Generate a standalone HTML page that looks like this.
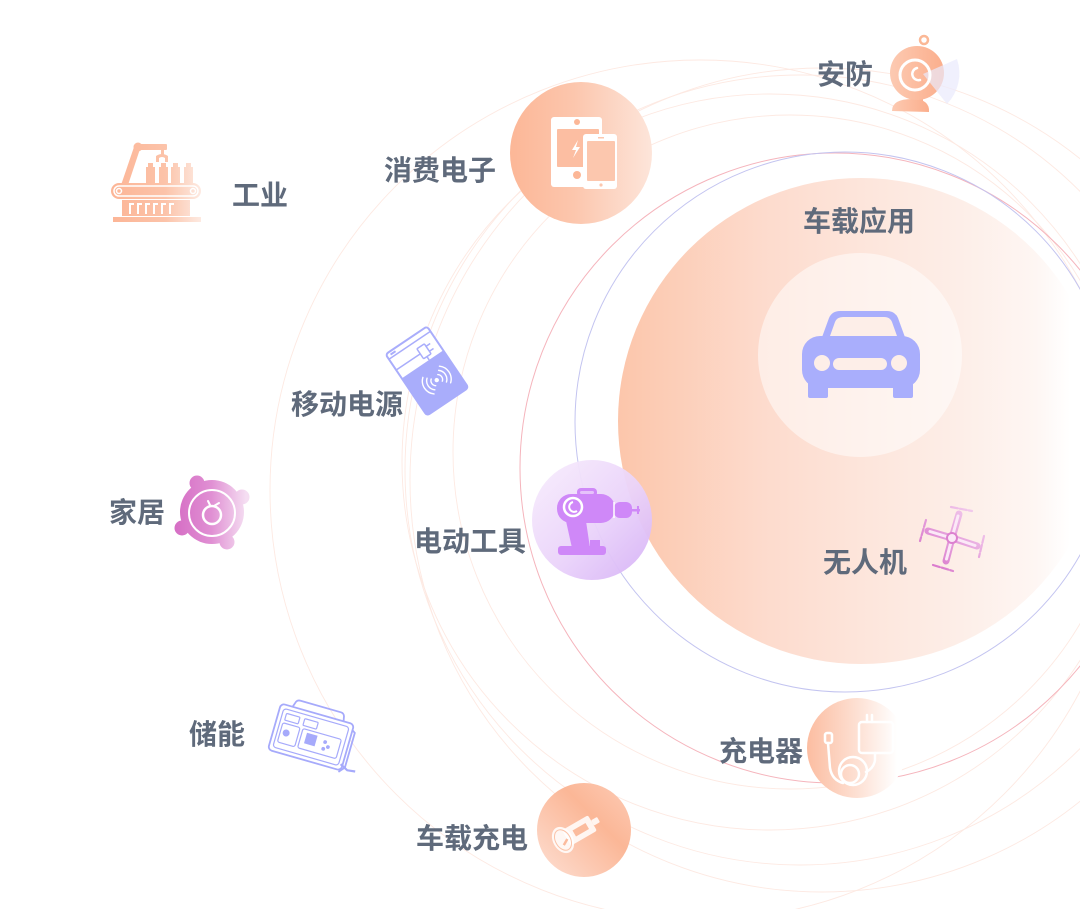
<!DOCTYPE html>
<html><head><meta charset="utf-8">
<style>
html,body{margin:0;padding:0;background:#fff;}
svg{display:block;}
text{font-family:"Liberation Sans","Noto Sans CJK SC",sans-serif;font-weight:700;font-size:28px;fill:#5f6a7b;}
</style></head>
<body>
<svg width="1080" height="909" viewBox="0 0 1080 909" xmlns="http://www.w3.org/2000/svg">
<defs>
<linearGradient id="gBig" gradientUnits="userSpaceOnUse" x1="618" y1="0" x2="1104" y2="0">
<stop offset="0" stop-color="#fcc6ab"/>
<stop offset="0.3" stop-color="#fddbcd"/>
<stop offset="0.5" stop-color="#fde5db"/>
<stop offset="0.72" stop-color="#fdefe9"/>
<stop offset="0.86" stop-color="#fef6f3"/>
<stop offset="0.93" stop-color="#ffffff"/>
</linearGradient>
<linearGradient id="gPhone" x1="0" y1="0" x2="1" y2="0">
<stop offset="0" stop-color="#fcb797"/>
<stop offset="0.45" stop-color="#fcc6ad"/>
<stop offset="1" stop-color="#fde5da"/>
</linearGradient>
<linearGradient id="gCam" x1="0" y1="0" x2="1" y2="0">
<stop offset="0" stop-color="#fccab2"/>
<stop offset="1" stop-color="#fbae8c"/>
</linearGradient>
<linearGradient id="gFac" gradientUnits="userSpaceOnUse" x1="110" y1="0" x2="202" y2="0">
<stop offset="0" stop-color="#fcb596"/>
<stop offset="0.6" stop-color="#fcc3a9"/>
<stop offset="1" stop-color="#fdebe3"/>
</linearGradient>
<linearGradient id="gHome" gradientUnits="userSpaceOnUse" x1="176" y1="0" x2="246" y2="0">
<stop offset="0" stop-color="#d66fc5"/>
<stop offset="0.5" stop-color="#e08fd3"/>
<stop offset="1" stop-color="#f5def2"/>
</linearGradient>
<linearGradient id="gDrill" x1="0" y1="0" x2="1" y2="1">
<stop offset="0" stop-color="#f8eefc"/>
<stop offset="0.55" stop-color="#ead3fa"/>
<stop offset="1" stop-color="#d5b0f6"/>
</linearGradient>
<linearGradient id="gDrone" gradientUnits="userSpaceOnUse" x1="920" y1="570" x2="985" y2="505">
<stop offset="0" stop-color="#d66cc7"/>
<stop offset="1" stop-color="#f6d9f2"/>
</linearGradient>
<linearGradient id="gChg" x1="0" y1="0" x2="1" y2="0">
<stop offset="0" stop-color="#fcbda1"/>
<stop offset="0.5" stop-color="#fde0d3"/>
<stop offset="0.9" stop-color="#ffffff"/>
</linearGradient>
<linearGradient id="gCar" x1="0.1" y1="0.9" x2="0.9" y2="0.1">
<stop offset="0" stop-color="#fdd9ca"/>
<stop offset="0.65" stop-color="#fbb797"/>
<stop offset="1" stop-color="#fcc6ae"/>
</linearGradient>
</defs>

<!-- faint orbit circles -->
<g fill="none" stroke="#fde9e2" stroke-width="0.9">
<circle cx="700" cy="490" r="430"/>
<circle cx="770" cy="462" r="368"/>
<circle cx="790" cy="452" r="337"/>
<circle cx="822" cy="480" r="412"/>
<circle cx="800" cy="470" r="395"/>
</g>

<!-- big filled circle -->
<circle cx="861" cy="421" r="243" fill="url(#gBig)"/>
<!-- thin colored circles -->
<circle cx="835" cy="468" r="315" fill="none" stroke="#f5b4bc" stroke-width="1"/>
<circle cx="845" cy="422" r="270" fill="none" stroke="#c3c4f0" stroke-width="1"/>

<!-- car inner circle -->
<circle cx="860" cy="355" r="102" fill="#ffffff" opacity="0.5"/>
<!-- car -->
<g fill="#a9aefc">
<path d="M821 340 L829 318 Q832 311 840 311 L887 311 Q895 311 898 318 L906 340 Z"/>
<rect x="802" y="336" width="118" height="52" rx="18"/>
<rect x="808" y="378" width="20" height="20" rx="2"/>
<rect x="893" y="378" width="20" height="20" rx="2"/>
</g>
<g fill="#fdeee8">
<path d="M830 336 L835 322 Q837 317 843 317 L884 317 Q890 317 892 322 L897 336 Z"/>
<circle cx="822" cy="363" r="8"/>
<circle cx="899" cy="363" r="8"/>
<rect x="833" y="358" width="54" height="12" rx="6"/>
</g>

<!-- 消费电子 circle + icon -->
<circle cx="581" cy="153" r="71" fill="url(#gPhone)"/>
<g>
<rect x="551" y="117" width="51" height="70" rx="3" fill="#fff"/>
<rect x="557" y="129" width="42" height="38" rx="1" fill="#fcbea2"/>
<circle cx="577" cy="122" r="3" fill="#fcb797"/>
<circle cx="577" cy="175" r="4" fill="#fcb797"/>
<path d="M578 140 L572 150 L576 150 L573 158 L580 147 L576 147 Z" fill="#fff"/>
<rect x="583" y="134" width="34" height="55" rx="3" fill="#fff"/>
<rect x="587" y="141" width="28" height="40" rx="1" fill="#fcc7ae"/>
<circle cx="601" cy="185" r="1.6" fill="#fcc7ae"/>
<rect x="598" y="137" width="6" height="1.5" fill="#fcc7ae"/>
</g>

<!-- 安防 camera -->
<g>
<circle cx="924" cy="40" r="4" fill="none" stroke="#fbb896" stroke-width="2.5"/>
<rect x="911" y="92" width="12" height="10" fill="url(#gCam)"/>
<path d="M892 111 Q892 99 912 99 Q930 99 929 112 Z" fill="url(#gCam)"/>
<circle cx="917" cy="73" r="27" fill="url(#gCam)"/>
<path d="M923 74 L957 59 A44 44 0 0 1 947 104 Z" fill="#e9e9fc" opacity="0.7"/>
<circle cx="915" cy="75" r="15" fill="none" stroke="#fff" stroke-width="3"/>
<path d="M917 68 A6 6 0 1 0 920 80" fill="none" stroke="#fff" stroke-width="2.5" stroke-linecap="round"/>
</g>

<!-- 工业 factory icon -->
<g fill="url(#gFac)">
<path d="M120 188 L134 147 L140 149 L127 188 Z"/>
<circle cx="138" cy="147" r="4.5"/>
<rect x="138" y="144" width="29" height="6" rx="1"/>
<rect x="161" y="150" width="3" height="5"/>
<path d="M156 162 L156 156 Q162 152 168 156 L168 162 L165 162 L165 158 Q162 156 159 158 L159 162 Z"/>
<rect x="146" y="167" width="9" height="17"/>
<rect x="159" y="167" width="9" height="17"/>
<rect x="171" y="167" width="9" height="17"/>
<rect x="184" y="167" width="9" height="17"/>
<rect x="148" y="163" width="5" height="5"/>
<rect x="161" y="163" width="5" height="5"/>
<rect x="173" y="163" width="5" height="5"/>
<rect x="186" y="163" width="5" height="5"/>
<rect x="111" y="183" width="90" height="16" rx="8"/>
<rect x="122" y="200" width="68" height="16"/>
<rect x="113" y="217" width="88" height="5"/>
</g>
<g fill="none" stroke="#fff" stroke-width="1.5">
<rect x="114" y="186" width="84" height="10" rx="5"/>
<circle cx="119" cy="191" r="2.5"/>
<circle cx="193" cy="191" r="2.5"/>
</g>
<g fill="none" stroke="#fff" stroke-width="2">
<path d="M130 214 V204 H134"/><path d="M138 214 V204 H142"/><path d="M146 214 V204 H150"/>
<path d="M154 214 V204 H158"/><path d="M162 214 V204 H166"/><path d="M170 214 V204 H174"/>
</g>

<!-- 移动电源 card -->
<g transform="translate(427 371) rotate(-34)">
<rect x="-25" y="-37" width="50" height="74" rx="3" fill="#fff" stroke="#a9adfb" stroke-width="2"/>
<path d="M-25 -8 H25 V34 Q25 37 22 37 H-22 Q-25 37 -25 34 Z" fill="#a9adfb"/>
<line x1="-25" y1="-31" x2="25" y2="-31" stroke="#a9adfb" stroke-width="1.5"/>
<rect x="-21" y="-35" width="6" height="2" fill="#a9adfb"/>
<path d="M-25 -18 H4" stroke="#a9adfb" stroke-width="1.5" fill="none"/>
<rect x="4" y="-24" width="9" height="12" rx="1" fill="none" stroke="#a9adfb" stroke-width="1.5"/>
<path d="M13 -21 H18 M13 -15 H18 M8 -12 V-8" stroke="#a9adfb" stroke-width="1.5"/>
<g fill="none" stroke="#fff" stroke-width="1.4" stroke-linecap="round">
<circle cx="3" cy="13" r="1.5" fill="#fff"/>
<path d="M-1 9 A5 5 0 0 0 -1 17"/><path d="M7 9 A5 5 0 0 1 7 17"/>
<path d="M-4 6 A9 9 0 0 0 -4 20"/><path d="M10 6 A9 9 0 0 1 10 20"/>
<path d="M-7 3 A13 13 0 0 0 -7 23"/><path d="M13 3 A13 13 0 0 1 13 23"/>
</g>
</g>

<!-- 家居 icon -->
<g fill="url(#gHome)">
<circle cx="197" cy="483" r="7.5"/>
<circle cx="242" cy="497" r="7.5"/>
<circle cx="182" cy="528" r="7.5"/>
<circle cx="227" cy="542" r="7.5"/>
<circle cx="212" cy="512" r="32"/>
</g>
<circle cx="212" cy="513" r="23" fill="none" stroke="#fff" stroke-width="2"/>
<circle cx="212" cy="515" r="9" fill="none" stroke="#fff" stroke-width="2.5"/>
<path d="M210 505 L208 501 M214 506 L219 503" stroke="#fff" stroke-width="2" stroke-linecap="round"/>

<!-- 电动工具 circle + drill -->
<circle cx="592" cy="520" r="60" fill="url(#gDrill)" opacity="0.95"/>
<g fill="#cf88f8">
<rect x="577" y="488" width="20" height="9" rx="4"/>
<rect x="557" y="494" width="58" height="29" rx="14"/>
<rect x="614" y="502" width="18" height="16" rx="6"/>
<rect x="631" y="509" width="9" height="2.5"/>
<rect x="637" y="506" width="2" height="8"/>
<path d="M566 521 L586 521 L590 548 L572 548 Z"/>
<rect x="590" y="540" width="10" height="7"/>
<rect x="558" y="546" width="48" height="9" rx="3"/>
</g>
<circle cx="573" cy="507" r="9" fill="none" stroke="#fff" stroke-width="2.5"/>
<path d="M573 502 A5 5 0 1 0 577 511" fill="none" stroke="#fff" stroke-width="2"/>
<line x1="614" y1="502" x2="614" y2="518" stroke="#fff" stroke-width="1.5"/>
<rect x="580" y="491" width="14" height="3" rx="1.5" fill="#e6c2fb"/>

<!-- 无人机 drone -->
<g stroke="url(#gDrone)" fill="none" stroke-linecap="round">
<g stroke-width="7">
<path d="M952 538 L928 531"/><path d="M952 538 L959 514"/>
<path d="M952 538 L977 546"/><path d="M952 538 L946 561"/>
</g>
<g stroke-width="2.2" stroke-dasharray="7 2">
<path d="M926 520 L920 541"/><path d="M951 507 L972 511"/>
<path d="M984 536 L979 557"/><path d="M933 565 L953 571"/>
</g>
</g>
<g stroke="#fbe9f7" stroke-width="3" fill="none" stroke-linecap="round">
<path d="M948 537 L930 531.5"/><path d="M953 534 L958 516"/>
<path d="M956 539 L975 545.5"/><path d="M951 542 L946.5 559"/>
</g>
<circle cx="952" cy="538" r="5" fill="#fbe9f7" stroke="#dc80cf" stroke-width="2"/>

<!-- 储能 storage -->
<g transform="translate(311 737) rotate(16)" fill="none" stroke="#a6aafb" stroke-width="1.8">
<path d="M-26 -24 L-24 -30 Q-23 -32 -20 -32 L22 -32 Q25 -32 26 -29 L27 -24"/>
<rect x="-38" y="-24" width="76" height="48" rx="4" fill="#fff"/>
<rect x="-34" y="-20" width="68" height="40" rx="3" stroke-width="1.2"/>
<rect x="-30" y="-16" width="14" height="7" rx="1" stroke-width="1.2"/>
<rect x="-11" y="-16" width="14" height="7" rx="1" stroke-width="1.2"/>
<rect x="-31" y="-6" width="18" height="20" rx="2" stroke-width="1.2"/>
<circle cx="-25" cy="3" r="3.5" fill="#a6aafb" stroke="none"/>
<rect x="-10" y="-6" width="40" height="20" rx="2" stroke-width="1.2"/>
<rect x="-5" y="-3" width="11" height="11" fill="#a6aafb" stroke="none"/>
<circle cx="15" cy="1" r="1" fill="#a6aafb"/><circle cx="19" cy="5" r="1" fill="#a6aafb"/><circle cx="15" cy="8" r="1" fill="#a6aafb"/>
<path d="M38 -18 L41 -16 L41 20 L36 26" stroke-width="1.8"/>
<path d="M36 18 L44 22 L52 21" stroke-width="2.2"/>
</g>

<!-- 充电器 circle + charger -->
<circle cx="857" cy="748" r="50" fill="url(#gChg)"/>
<g fill="none" stroke="#fff" stroke-width="2.5" stroke-linecap="round" stroke-linejoin="round">
<rect x="859" y="722" width="34" height="31" rx="3"/>
<path d="M867 715 V722 M872 715 V722"/>
<path d="M875 753 V760 Q874 768 866 772"/>
<circle cx="853" cy="771" r="14"/>
<circle cx="850" cy="774" r="9"/>
<rect x="825" y="733" width="7" height="10" rx="2"/>
<path d="M828 743 L830 768 Q832 780 843 783"/>
</g>

<!-- 车载充电 circle + plug -->
<circle cx="584" cy="830" r="47" fill="url(#gCar)"/>
<g transform="translate(563 840) rotate(-30)" fill="#fff" fill-opacity="0.85">
<rect x="4" y="-9" width="30" height="18" rx="2"/>
<rect x="34" y="-3" width="7" height="6" rx="1"/>
<ellipse cx="0" cy="0" rx="10" ry="14"/>
<rect x="13" y="-3.5" width="15" height="7" fill="#fbbb9d" fill-opacity="1"/>
<ellipse cx="0" cy="0" rx="7.5" ry="11" fill="none" stroke="#fbc3a8" stroke-width="1"/>
<rect x="-4" y="2" width="7" height="2.5" fill="#fbbb9d" fill-opacity="1" transform="rotate(-30)"/>
</g>

<!-- labels -->
<text x="817" y="84">安防</text>
<text x="384" y="180">消费电子</text>
<text x="232" y="205">工业</text>
<text x="803" y="231">车载应用</text>
<text x="291" y="414">移动电源</text>
<text x="109" y="522">家居</text>
<text x="414" y="551">电动工具</text>
<text x="823" y="572">无人机</text>
<text x="189" y="744">储能</text>
<text x="719" y="761">充电器</text>
<text x="416" y="848">车载充电</text>
</svg>
</body></html>
